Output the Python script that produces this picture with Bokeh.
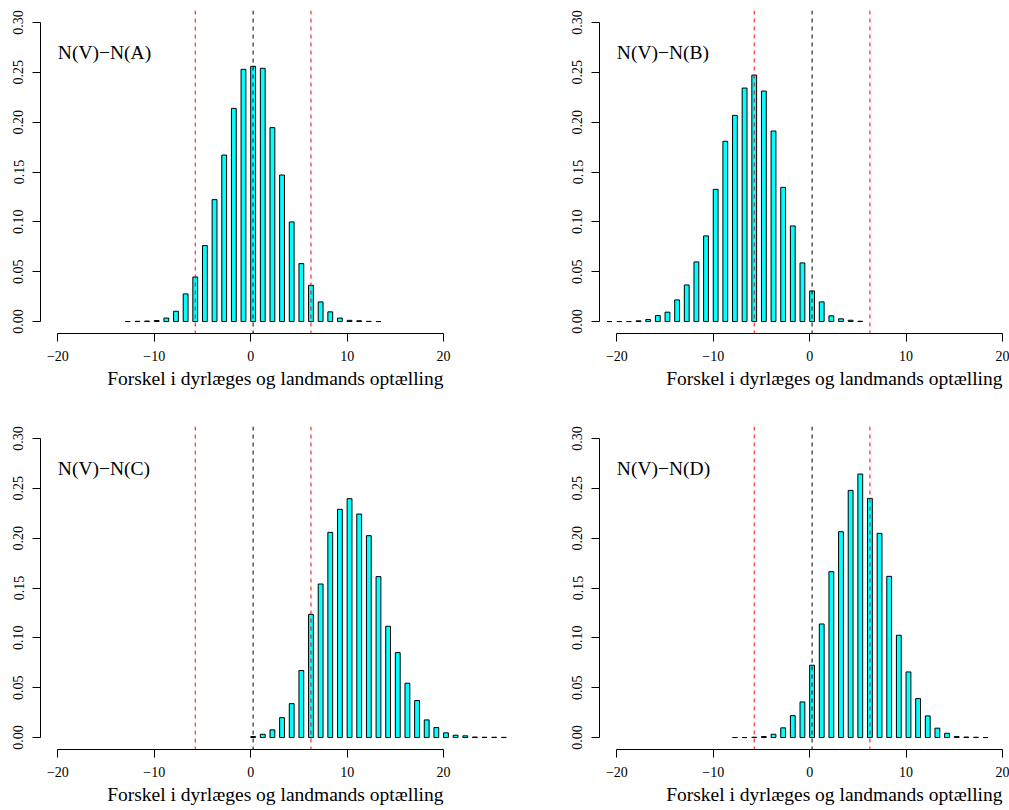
from bokeh.plotting import figure
from bokeh.models import (Span, Title, FixedTicker, Range1d, ColumnDataSource,
                          NumeralTickFormatter, CustomJSTickFormatter)
from bokeh.layouts import column, row
from bokeh.transform import dodge
from bokeh.embed import file_html
from bokeh.resources import INLINE
from bokeh.core.properties import value

# ---------------- data ----------------
a_x = list(range(-13, 14))
a_y = [0, 0.0002, 0.0005, 0.001, 0.0035, 0.0103, 0.0277, 0.0447, 0.0762, 0.1223,
       0.167, 0.2138, 0.253, 0.256, 0.254, 0.1945, 0.147, 0.0999, 0.0581, 0.0364,
       0.0197, 0.0097, 0.0035, 0.0012, 0.0008, 0.0002, 0]

b_x = list(range(-21, 6))
b_y = [0, 0, 0, 0.0007, 0.002, 0.006, 0.0094, 0.0217, 0.0367, 0.0598, 0.0859,
       0.1326, 0.1808, 0.2068, 0.2342, 0.2472, 0.2312, 0.1911, 0.1346, 0.0959,
       0.0588, 0.0307, 0.0197, 0.0057, 0.0027, 0.0013, 0.0003]

c_x = list(range(0, 27))
c_y = [0.001, 0.0033, 0.0077, 0.020, 0.034, 0.0672, 0.1236, 0.154, 0.2058, 0.2289,
       0.2396, 0.2242, 0.2025, 0.1614, 0.1116, 0.0852, 0.0545, 0.0371, 0.0177,
       0.010, 0.0047, 0.0023, 0.0017, 0.0005, 0.0003, 0.0003, 0.0002]

d_x = list(range(-8, 19))
d_y = [0, 0, 0.0003, 0.001, 0.0033, 0.0097, 0.022, 0.0357, 0.0725, 0.1139, 0.1664,
       0.2065, 0.2479, 0.2643, 0.2399, 0.2048, 0.1617, 0.1026, 0.0658, 0.0391,
       0.0217, 0.0094, 0.0043, 0.001, 0.0005, 0.0003, 0]

panel_labels = ["N(V)\u2212N(A)", "N(V)\u2212N(B)", "N(V)\u2212N(C)", "N(V)\u2212N(D)"]
x_label = "Forskel i dyrlæges og landmands optælling"
x_ticks = [-20, -10, 0, 10, 20]
y_ticks = [0.0, 0.05, 0.10, 0.15, 0.20, 0.25, 0.30]
red_lines = [-5.75, 6.25]
black_lines = [0.25]
label_x = -20
label_y = 0.27

FONT = "Liberation Serif"
BAR_W = 0.5


def make_panel(xs, ys, label, width, height, b_left, b_right, b_top, b_bottom,
               x_end, title_offset):
    p = figure(width=width, height=height,
               x_range=Range1d(-21.8, x_end), y_range=Range1d(-0.012, 0.312),
               output_backend="svg", toolbar_location=None,
               min_border_left=b_left, min_border_right=b_right,
               min_border_top=b_top, min_border_bottom=b_bottom)
    p.grid.visible = False
    p.outline_line_color = None
    p.background_fill_color = "white"
    p.border_fill_color = "white"

    src = ColumnDataSource(dict(x=xs, y=ys))
    p.vbar(x=dodge("x", BAR_W / 2), width=BAR_W, top="y", bottom=0, source=src,
           fill_color="#00FFFF", line_color="black", line_width=1)

    for loc in red_lines:
        p.add_layout(Span(location=loc, dimension="height", line_color="#FF0000",
                          line_dash="4 4", line_width=1))
    for loc in black_lines:
        p.add_layout(Span(location=loc, dimension="height", line_color="black",
                          line_dash="4 4", line_width=1))

    p.text(x=[label_x], y=[label_y], text=[label], text_font=value(FONT),
           text_font_size="19.5px", text_baseline="middle", text_align="left",
           text_color="black")

    xa = p.xaxis[0]
    xa.bounds = (-20, 20)
    xa.ticker = FixedTicker(ticks=x_ticks)
    xa.formatter = CustomJSTickFormatter(
        code="return tick < 0 ? '\\u2212' + Math.abs(tick) : String(tick);")
    xa.minor_tick_line_color = None
    xa.major_tick_out = 8
    xa.major_tick_in = 0
    xa.major_label_standoff = 9
    xa.major_label_text_font = FONT
    xa.major_label_text_font_size = "14px"
    xa.major_label_text_color = "black"
    xa.axis_line_color = "black"
    xa.major_tick_line_color = "black"

    ya = p.yaxis[0]
    ya.bounds = (0, 0.30)
    ya.ticker = FixedTicker(ticks=y_ticks)
    ya.formatter = NumeralTickFormatter(format="0.00")
    ya.minor_tick_line_color = None
    ya.major_tick_out = 8
    ya.major_tick_in = 0
    ya.major_label_standoff = 9
    ya.major_label_orientation = "vertical"
    ya.major_label_text_font = FONT
    ya.major_label_text_font_size = "14px"
    ya.major_label_text_color = "black"
    ya.axis_line_color = "black"
    ya.major_tick_line_color = "black"

    t = Title(text=x_label, align="right", offset=title_offset,
              text_font=FONT, text_font_size="19.5px", text_font_style="normal",
              text_color="black", standoff=5)
    p.add_layout(t, "below")
    return p


LEFT_W, RIGHT_W = 540, 469
TOP_H, BOT_H = 416, 392
FRAME_H = 323

p1 = make_panel(a_x, a_y, panel_labels[0], LEFT_W, TOP_H, 40, 25, 10,
                TOP_H - FRAME_H - 10, 27.46, 72)
p2 = make_panel(b_x, b_y, panel_labels[1], RIGHT_W, TOP_H, 59, 0, 10,
                TOP_H - FRAME_H - 10, 20.73, 7)
p3 = make_panel(c_x, c_y, panel_labels[2], LEFT_W, BOT_H, 40, 25, 10,
                BOT_H - FRAME_H - 10, 27.46, 72)
p4 = make_panel(d_x, d_y, panel_labels[3], RIGHT_W, BOT_H, 59, 0, 10,
                BOT_H - FRAME_H - 10, 20.73, 7)

layout = column(row(p1, p2), row(p3, p4))

open("out.html", "w").write(file_html(layout, INLINE))
